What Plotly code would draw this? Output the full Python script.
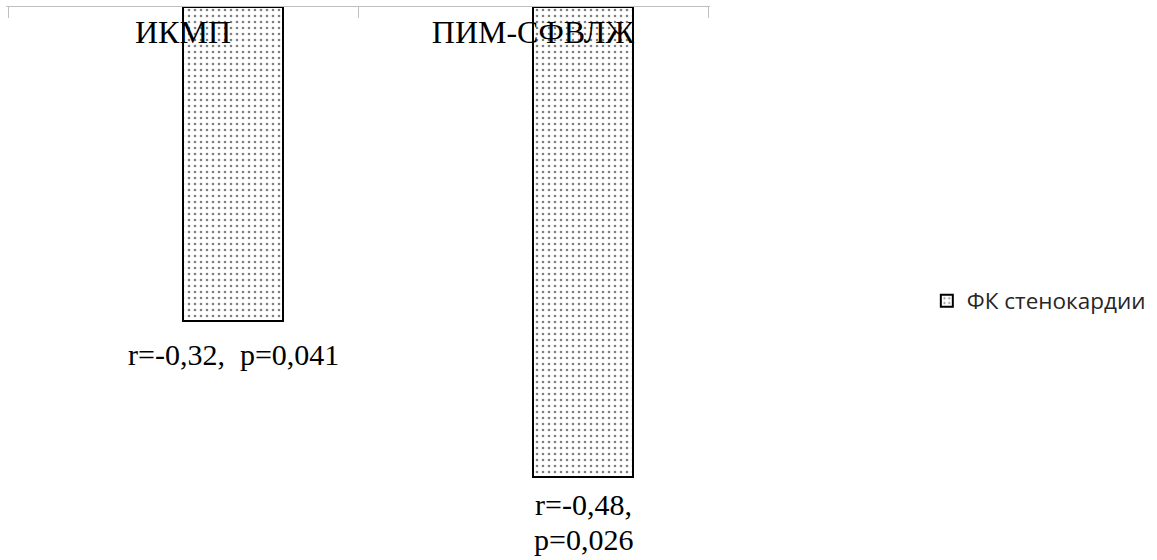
import plotly.graph_objects as go

categories = ["ИКМП", "ПИМ-СФВЛЖ"]
r_values = [-0.32, -0.48]
stat_labels = [["r=-0,32,&nbsp; p=0,041"], ["r=-0,48,", "p=0,026"]]
series_name = "ФК стенокардии"

serif = "Liberation Serif, Times New Roman, serif"
n = len(categories)
boundaries = [i - 0.5 for i in range(n + 1)]
pad = 2 / 350.0
xr = [-0.5 - pad, n - 0.5 + pad]

fig = go.Figure()
fig.add_trace(go.Bar(
    x=categories,
    y=r_values,
    name=series_name,
    width=0.2857,
    offset=0,
    marker=dict(
        color="white",
        line=dict(color="black", width=2),
        pattern=dict(shape=".", fgcolor="black", bgcolor="white", size=6, solidity=0.15),
    ),
    showlegend=True,
))
# empty helper trace so the tick-only overlay axis is rendered
fig.add_trace(go.Scatter(x=[], y=[], xaxis="x2", showlegend=False, hoverinfo="skip"))

first_shift = [-15, -9]
line_step = 35
for cat, val, lines, s0 in zip(categories, r_values, stat_labels, first_shift):
    for k, line in enumerate(lines):
        fig.add_annotation(
            x=cat, y=val, xref="x", yref="y",
            text=line, showarrow=False,
            xanchor="center", yanchor="top",
            xshift=50, yshift=s0 - k * line_step,
            font=dict(family=serif, size=30, color="black"),
        )

fig.update_layout(
    width=1157, height=560,
    margin=dict(l=6, r=447, t=7, b=63),
    paper_bgcolor="white", plot_bgcolor="white",
    bargap=0,
    xaxis=dict(
        type="category",
        side="top",
        range=xr,
        showline=True, linecolor="#bfbfbf", linewidth=1,
        ticks="",
        ticklabelposition="inside", ticklabelstandoff=17,
        tickfont=dict(family=serif, size=32, color="black"),
        showgrid=False, zeroline=False,
    ),
    xaxis2=dict(
        overlaying="x", side="top",
        range=xr,
        tickmode="array", tickvals=boundaries,
        ticks="inside", ticklen=11, tickcolor="#bfbfbf", tickwidth=1,
        showticklabels=False, showline=False,
        showgrid=False, zeroline=False,
    ),
    yaxis=dict(range=[-0.5, 0], visible=False, showgrid=False, zeroline=False),
    legend=dict(
        x=1.308, y=0.4, xanchor="left", yanchor="middle",
        font=dict(family="Open Sans, sans-serif", size=22.5, color="#262626"),
        bgcolor="rgba(0,0,0,0)",
    ),
)

fig.write_html("out.html")
